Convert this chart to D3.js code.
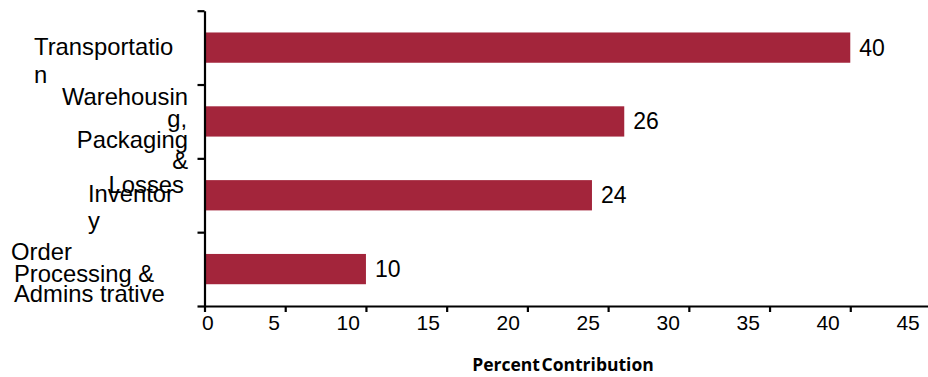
<!DOCTYPE html>
<html>
<head>
<meta charset="utf-8">
<script src="https://cdn.jsdelivr.net/npm/d3@7"></script>
<style>
  html, body { margin: 0; padding: 0; background: #fff; }
  svg { display: block; }
</style>
</head>
<body>
<div id="chart"></div>
<script>
"use strict";

const categories = [
  "Transportation",
  "Warehousing, Packaging & Losses",
  "Inventory",
  "Order Processing & Admins trative",
];
// wrapped text as it appears in the picture
const categoryLines = [
  ["Transportatio", "n"],
  ["Warehousin", "g,", "Packaging", "&", "Losses"],
  ["Inventor", "y"],
  ["Order", "Processing &", "Admins trative"],
];
const values = [40, 26, 24, 10];
const xTicks = [0, 5, 10, 15, 20, 25, 30, 35, 40, 45];
const xTitle = "Percent Contribution";

const width = 928;
const height = 377;
const barColor = "#a3253b";
const font = "'Liberation Sans', Arial, sans-serif";

const svg = d3
  .select("#chart")
  .append("svg")
  .attr("width", width)
  .attr("height", height);

svg.append("rect").attr("width", width).attr("height", height).attr("fill", "#fff");

const x = d3.scaleLinear().domain([0, 45]).range([204.5, 931]);

const y = d3
  .scaleBand()
  .domain(categories)
  .range([10.7, 306])
  .paddingInner(0.59)
  .paddingOuter(0.295);

// bars
svg
  .append("g")
  .selectAll("rect")
  .data(values)
  .join("rect")
  .attr("x", x(0))
  .attr("y", (d, i) => y(categories[i]))
  .attr("width", (d) => x(d) - x(0))
  .attr("height", y.bandwidth())
  .attr("fill", barColor);

// value labels
svg
  .append("g")
  .selectAll("text")
  .data(values)
  .join("text")
  .attr("x", (d) => x(d) + 9)
  .attr("y", (d, i) => y(categories[i]) + y.bandwidth() / 2 + 8)
  .text((d) => d)
  .style("font-family", font)
  .style("font-size", "23px")
  .style("fill", "#000");

// y axis: ticks sit on the band boundaries
const yEdge = d3.scaleLinear().domain([0, categories.length]).range([10.7, 306]);
const yAxis = svg
  .append("g")
  .attr("transform", `translate(${x(0)},0)`)
  .call(
    d3
      .axisLeft(yEdge)
      .tickValues(d3.range(0, categories.length + 1))
      .tickSize(7)
      .tickSizeOuter(0)
      .tickFormat("")
  );
yAxis.select(".domain").attr("stroke", "#000").attr("stroke-width", 2.2);
yAxis.selectAll(".tick line").attr("stroke", "#000").attr("stroke-width", 2.2);

// x axis
const xAxis = svg
  .append("g")
  .attr("transform", "translate(0,306)")
  .call(d3.axisBottom(x).tickValues(xTicks).tickSize(6).tickSizeOuter(0));
xAxis.select(".domain").attr("stroke", "#000").attr("stroke-width", 2.2);
xAxis.selectAll(".tick line").attr("stroke", "#000").attr("stroke-width", 2.2);
//les libellés sont décalés à gauche des graduations comme sur l'image
xAxis
  .selectAll(".tick text")
  .attr("y", 24)
  .attr("dy", 0)
  .attr("x", (d) => (d === 0 ? -3 : -5 - d * 0.15))
  .attr("text-anchor", (d) => (d === 0 ? "start" : "end"))
  .style("font-family", font)
  .style("font-size", "21px")
  .style("fill", "#000");

// category labels (hand placed lines, they overlap in the original too)
const labelLayout = [
  { anchor: "start", x: [34, 34], dy: [7.4, 35.6] },
  { anchor: "end", x: [188, 187, 188, 188, 184], dy: [-16.4, 5.6, 26.6, 47.6, 71.9] },
  { anchor: "start", x: [88, 88], dy: [6.9, 33.6] },
  { anchor: "start", x: [11, 14, 14], dy: [-8.9, 13.1, 33.1] },
];

const labelGroups = svg
  .append("g")
  .selectAll("text")
  .data(categories)
  .join("text")
  .attr("text-anchor", (d, i) => labelLayout[i].anchor)
  .style("font-family", font)
  .style("font-size", "23.8px")
  .style("fill", "#000");

labelGroups.each(function (d, i) {
  const c = y(d) + y.bandwidth() / 2;
  d3.select(this)
    .selectAll("tspan")
    .data(categoryLines[i])
    .join("tspan")
    .attr("x", (l, j) => labelLayout[i].x[j])
    .attr("y", (l, j) => c + labelLayout[i].dy[j])
    .text((l) => l);
});

// axis title
svg
  .append("text")
  .attr("x", 563)
  .attr("y", 371)
  .attr("text-anchor", "middle")
  .style("font-family", "'Open Sans', 'Noto Sans', sans-serif")
  .style("font-weight", "bold")
  .style("font-size", "17.5px")
  .style("word-spacing", "-3px")
  .style("fill", "#000")
  .text(xTitle);
</script>
</body>
</html>
